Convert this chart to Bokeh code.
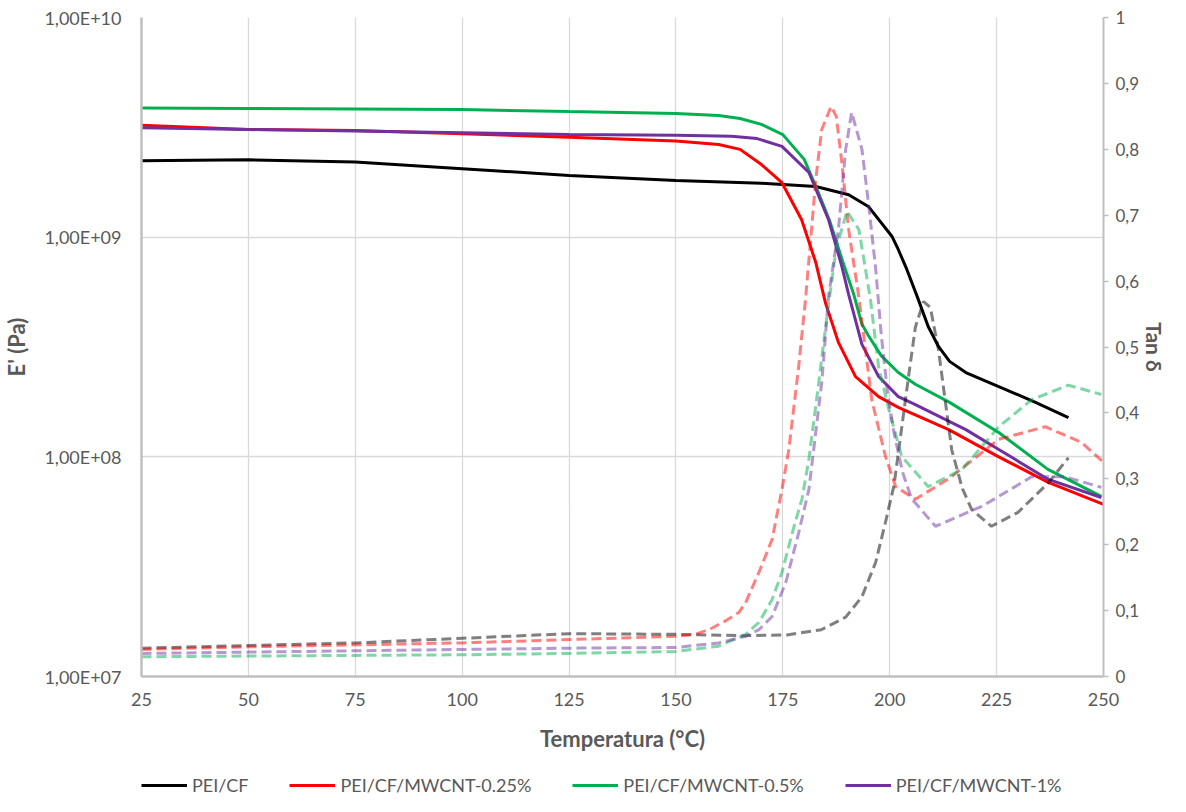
from bokeh.plotting import figure
from bokeh.layouts import column
from bokeh.models import (Range1d, LinearAxis, LinearScale, FixedTicker, CustomJSTickFormatter,
                          Legend, LegendItem)
from bokeh.embed import file_html
from bokeh.resources import INLINE

# ---------------- data ----------------
series_names = ["PEI/CF", "PEI/CF/MWCNT-0.25%", "PEI/CF/MWCNT-0.5%", "PEI/CF/MWCNT-1%"]

# Storage modulus E' (Pa)
T_E_cf = [25, 50, 75, 100, 125, 150, 170, 182.7, 190.4, 195, 200.5, 202, 204, 206.5, 209,
          211.4, 214, 217.8, 225.5, 234.1, 241.8]
E_cf = [2.23e9, 2.25e9, 2.20e9, 2.05e9, 1.91e9, 1.81e9, 1.76e9, 1.70e9, 1.56e9, 1.38e9, 1.01e9,
        8.79e8, 7.13e8, 5.32e8, 3.92e8, 3.18e8, 2.72e8, 2.42e8, 2.09e8, 1.77e8, 1.51e8]

T_E_025 = [25, 50, 75, 100, 125, 150, 160, 165, 170, 174.8, 179.4, 182.7, 185, 188, 192, 197.4,
           202, 213.8, 225.5, 237.1, 250]
E_025 = [3.23e9, 3.09e9, 3.06e9, 2.96e9, 2.85e9, 2.74e9, 2.64e9, 2.51e9, 2.14e9, 1.77e9, 1.20e9,
         7.67e8, 5.00e8, 3.32e8, 2.32e8, 1.88e8, 1.68e8, 1.33e8, 1.00e8, 7.65e7, 6.07e7]

T_E_05 = [25, 50, 75, 100, 125, 150, 160, 165, 170, 175, 180, 183, 186, 189, 191.6, 193.5, 195,
          198, 202, 206, 214, 225.5, 237, 249.5]
E_05 = [3.87e9, 3.85e9, 3.83e9, 3.81e9, 3.73e9, 3.66e9, 3.58e9, 3.47e9, 3.26e9, 2.93e9, 2.26e9,
        1.65e9, 1.18e9, 7.75e8, 5.48e8, 4.01e8, 3.57e8, 2.89e8, 2.42e8, 2.14e8, 1.77e8, 1.29e8,
        8.77e7, 6.61e7]

T_E_1 = [25, 50, 75, 100, 125, 150, 163, 169, 174.8, 181.1, 185.7, 188.8, 190.4, 193.5, 197.4,
         202, 206, 217.8, 225.5, 237.1, 249.5]
E_1 = [3.15e9, 3.09e9, 3.04e9, 2.99e9, 2.93e9, 2.91e9, 2.88e9, 2.81e9, 2.59e9, 1.97e9, 1.20e9,
       7.36e8, 5.48e8, 3.25e8, 2.32e8, 1.88e8, 1.73e8, 1.33e8, 1.08e8, 7.89e7, 6.53e7]

# Tan delta
T_tan_cf = [25, 50, 75, 100, 125, 150, 165, 176, 184, 189.7, 193.5, 196.7, 199, 201, 204.4, 206,
            207.9, 209.5, 211.4, 214.5, 217, 219.2, 223.8, 230, 237.1, 241.8]
tan_cf = [0.043, 0.047, 0.051, 0.058, 0.065, 0.064, 0.062, 0.063, 0.071, 0.090, 0.121, 0.173,
          0.234, 0.290, 0.455, 0.530, 0.569, 0.560, 0.496, 0.344, 0.285, 0.253, 0.228, 0.249,
          0.294, 0.332]

T_tan_025 = [25, 50, 75, 100, 125, 150, 155, 158, 162, 164.7, 166.3, 169.4, 172.5, 174.8, 176.4,
             178.7, 180.3, 182, 182.7, 184.1, 186.3, 187.5, 188.8, 190.4, 192.8, 195.8, 199,
             201.4, 206, 213.8, 225.5, 236.4, 244.9, 250]
tan_025 = [0.041, 0.045, 0.048, 0.051, 0.056, 0.061, 0.065, 0.072, 0.086, 0.097, 0.112, 0.158,
           0.208, 0.284, 0.344, 0.470, 0.572, 0.700, 0.754, 0.830, 0.865, 0.850, 0.780, 0.678,
           0.575, 0.420, 0.334, 0.288, 0.269, 0.300, 0.360, 0.379, 0.355, 0.325]

T_tan_05 = [25, 50, 75, 100, 125, 150, 160, 166.3, 169.4, 172.5, 174.8, 177.2, 179.5, 181.1,
            183.4, 185.3, 187.5, 190, 192.8, 195.5, 197.4, 199.8, 202.8, 209, 216.9, 225.5,
            233.2, 241.8, 249.5]
tan_05 = [0.030, 0.031, 0.032, 0.033, 0.035, 0.038, 0.046, 0.064, 0.082, 0.117, 0.158, 0.218,
          0.270, 0.330, 0.446, 0.546, 0.650, 0.706, 0.678, 0.572, 0.470, 0.405, 0.334, 0.288,
          0.314, 0.379, 0.420, 0.442, 0.428]

T_tan_1 = [25, 50, 75, 100, 125, 150, 160, 166.3, 169.4, 172.5, 175.7, 178.7, 181.1, 184.1,
           185.7, 188, 189.7, 191.1, 193.5, 195, 196.7, 198, 199.5, 201, 203, 205.1, 210.7,
           221.5, 233.2, 241, 249.5]
tan_1 = [0.035, 0.037, 0.039, 0.041, 0.043, 0.044, 0.051, 0.061, 0.071, 0.091, 0.143, 0.218,
         0.284, 0.446, 0.577, 0.678, 0.800, 0.856, 0.800, 0.720, 0.620, 0.520, 0.430, 0.370,
         0.310, 0.270, 0.228, 0.258, 0.303, 0.303, 0.287]

x_ticks = [25, 50, 75, 100, 125, 150, 175, 200, 225, 250]
e_ticks = [1e7, 1e8, 1e9, 1e10]
tan_ticks = [0, 0.1, 0.2, 0.3, 0.4, 0.5, 0.6, 0.7, 0.8, 0.9, 1.0]

colors = ["#000000", "#FF0000", "#00B050", "#7030A0"]

# ---------------- figure ----------------
FONT = "Lato"
TXT = "#595959"
TICK_FS = "18px"
TITLE_FS = "22px"

p = figure(width=1170, height=774, output_backend="svg", toolbar_location=None,
           y_axis_type="log", x_range=Range1d(25, 250), y_range=Range1d(1e7, 1e10),
           min_border_left=141, min_border_right=66, min_border_top=17, min_border_bottom=98)
p.outline_line_color = None
p.extra_y_ranges = {"tan": Range1d(0, 1)}
p.extra_y_scales = {"tan": LinearScale()}

# grids
p.xgrid.ticker = FixedTicker(ticks=x_ticks)
p.xgrid.grid_line_color = "#D9D9D9"
p.xgrid.grid_line_width = 1.3
p.ygrid.ticker = FixedTicker(ticks=e_ticks)
p.ygrid.grid_line_color = "#D9D9D9"
p.ygrid.grid_line_width = 1.3

# x axis
xa = p.xaxis[0]
xa.ticker = FixedTicker(ticks=x_ticks)
xa.axis_line_color = "#BFBFBF"
xa.axis_line_width = 2.5
xa.major_tick_line_color = None
xa.major_tick_out = 0
xa.major_tick_in = 0
xa.minor_tick_line_color = None
xa.minor_tick_out = 0
xa.major_label_text_font = FONT
xa.major_label_text_font_size = TICK_FS
xa.major_label_text_color = TXT
xa.major_label_standoff = 16
xa.axis_label = "Temperatura (°C)"
xa.axis_label_text_font = FONT
xa.axis_label_text_font_size = TITLE_FS
xa.axis_label_text_font_style = "bold"
xa.axis_label_text_color = TXT
xa.axis_label_standoff = 16

# left axis
ya = p.yaxis[0]
ya.ticker = FixedTicker(ticks=e_ticks)
ya.formatter = CustomJSTickFormatter(code="""
const e = Math.round(Math.log10(tick));
const m = tick / Math.pow(10, e);
const ms = m.toFixed(2).replace('.', ',');
return ms + 'E+' + (e < 10 ? '0' : '') + e;
""")
ya.axis_line_color = "#BFBFBF"
ya.axis_line_width = 2.5
ya.major_tick_line_color = None
ya.major_tick_out = 0
ya.major_tick_in = 0
ya.minor_tick_line_color = None
ya.minor_tick_out = 0
ya.major_label_text_font = FONT
ya.major_label_text_font_size = TICK_FS
ya.major_label_text_color = TXT
ya.major_label_standoff = 20
ya.axis_label = "E' (Pa)"
ya.axis_label_text_font = FONT
ya.axis_label_text_font_size = TITLE_FS
ya.axis_label_text_font_style = "bold"
ya.axis_label_text_color = TXT
ya.axis_label_standoff = 11

# right axis
ra = LinearAxis(y_range_name="tan", ticker=FixedTicker(ticks=tan_ticks))
ra.formatter = CustomJSTickFormatter(code="""
return (Math.round(tick * 10) / 10).toString().replace('.', ',');
""")
ra.axis_line_color = "#BFBFBF"
ra.axis_line_width = 2
ra.major_tick_line_color = "#BFBFBF"
ra.major_tick_line_width = 1.5
ra.major_tick_out = 5
ra.major_tick_in = 0
ra.minor_tick_line_color = None
ra.minor_tick_out = 0
ra.major_label_text_font = FONT
ra.major_label_text_font_size = "17px"
ra.major_label_text_color = TXT
ra.major_label_standoff = 7
ra.axis_label = "Tan δ"
ra.axis_label_text_font = FONT
ra.axis_label_text_font_size = "21px"
ra.axis_label_text_font_style = "bold"
ra.axis_label_text_color = TXT
ra.axis_label_standoff = 0
p.add_layout(ra, "right")

# lines
E_T = [T_E_cf, T_E_025, T_E_05, T_E_1]
E_V = [E_cf, E_025, E_05, E_1]
tan_T = [T_tan_cf, T_tan_025, T_tan_05, T_tan_1]
tan_V = [tan_cf, tan_025, tan_05, tan_1]

for t, v, c in zip(E_T, E_V, colors):
    p.line(t, v, line_color=c, line_width=3)
for t, v, c in zip(tan_T, tan_V, colors):
    p.line(t, v, line_color=c, line_width=3, line_alpha=0.5, line_dash="10 5",
           y_range_name="tan")

# ---------------- legend strip ----------------
lf = figure(width=1170, height=22, output_backend="svg", toolbar_location=None,
            x_range=Range1d(0, 1), y_range=Range1d(0, 1),
            min_border_left=0, min_border_right=0, min_border_top=0, min_border_bottom=0)
lf.axis.visible = False
lf.grid.visible = False
lf.outline_line_color = None
# legend proxies: the real series, drawn outside this strip's visible range
proxies = [lf.line(t, v, line_color=c, line_width=3) for t, v, c in zip(E_T, E_V, colors)]
legend = Legend(items=[LegendItem(label=n, renderers=[r]) for n, r in zip(series_names, proxies)],
                orientation="horizontal", location=(0, 0),
                label_text_font=FONT, label_text_font_size="18px", label_text_color=TXT,
                glyph_width=46, glyph_height=18, spacing=41, label_standoff=5,
                border_line_color=None, background_fill_alpha=0, margin=0, padding=0)
lf.add_layout(legend, "center")

open("out.html", "w").write(file_html(column(p, lf, spacing=0), INLINE))
